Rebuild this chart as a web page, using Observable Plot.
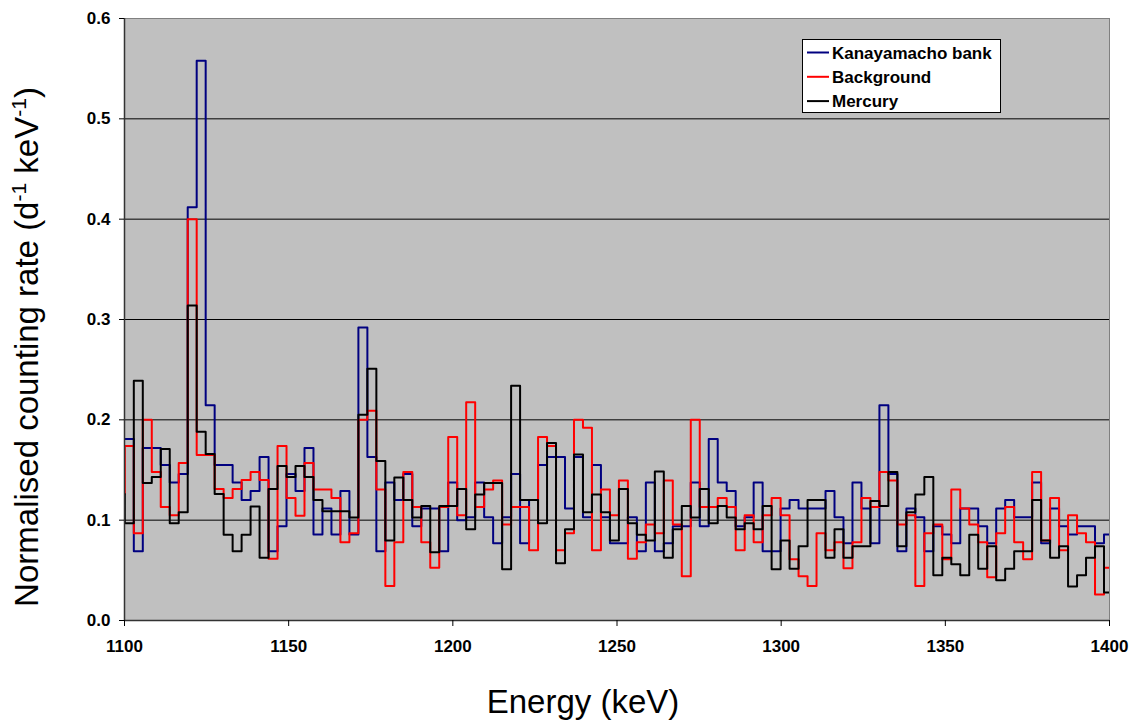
<!DOCTYPE html>
<html><head><meta charset="utf-8">
<script src="https://cdn.jsdelivr.net/npm/d3@7"></script>
<script src="https://cdn.jsdelivr.net/npm/@observablehq/plot@0.6"></script>
<style>body{margin:0;background:#fff} svg{display:block}</style>
</head><body><div id="chart"></div>
<script>
// Histogram bins (keV)
const binStart = 1100.1;
const binWidth = 2.736;

// Normalised counting rate (d^-1 keV^-1) per bin
const kanayamacho = [
0.181,0.069,0.172,0.172,0.155,0.1375,0.146,0.412,0.558,0.2146,
0.155,0.155,0.1375,0.12,0.129,0.163,0.069,0.094,0.146,0.129,
0.172,0.0857,0.1116,0.0857,0.129,0.0857,0.292,0.163,0.069,0.1375,
0.12,0.146,0.094,0.1116,0.1116,0.069,0.1375,0.1,0.103,0.1375,
0.103,0.077,0.103,0.146,0.077,0.12,0.155,0.163,0.163,0.1116,
0.163,0.103,0.155,0.103,0.077,0.077,0.103,0.069,0.1375,0.069,
0.077,0.094,0.094,0.1375,0.094,0.181,0.1375,0.129,0.094,0.103,
0.1375,0.069,0.069,0.1116,0.12,0.1116,0.1116,0.1116,0.129,0.103,
0.077,0.1375,0.1116,0.077,0.2146,0.146,0.069,0.1116,0.103,0.069,
0.094,0.0857,0.077,0.1116,0.1116,0.094,0.077,0.1116,0.12,0.103,
0.103,0.1375,0.077,0.1116,0.094,0.0857,0.094,0.094,0.077,0.0857];

const background = [
0.174,0.087,0.2,0.148,0.113,0.105,0.157,0.40,0.165,0.165,
0.131,0.122,0.131,0.14,0.148,0.14,0.0615,0.174,0.122,0.1045,
0.157,0.1305,0.1305,0.122,0.078,0.087,0.2,0.209,0.1305,0.0345,
0.078,0.148,0.113,0.078,0.0525,0.113,0.183,0.105,0.2176,0.113,
0.1305,0.1395,0.0957,0.113,0.113,0.07,0.183,0.174,0.07,0.087,
0.2,0.192,0.07,0.1305,0.105,0.1395,0.0615,0.078,0.0957,0.087,
0.1395,0.0957,0.044,0.2,0.113,0.113,0.122,0.113,0.07,0.105,
0.078,0.105,0.122,0.105,0.061,0.044,0.0345,0.087,0.07,0.078,
0.052,0.078,0.122,0.113,0.148,0.1395,0.0957,0.105,0.0345,0.087,
0.0957,0.061,0.1305,0.1116,0.0957,0.078,0.043,0.087,0.113,0.078,
0.061,0.148,0.0797,0.122,0.07,0.105,0.087,0.078,0.026,0.0525];

const mercury = [
0.097,0.239,0.137,0.143,0.171,0.097,0.108,0.314,0.188,0.166,
0.126,0.0855,0.069,0.0855,0.1135,0.0625,0.131,0.154,0.143,0.154,
0.143,0.12,0.109,0.109,0.109,0.1027,0.205,0.251,0.159,0.0797,
0.1425,0.12,0.1027,0.114,0.0681,0.114,0.114,0.131,0.091,0.1256,
0.137,0.137,0.051,0.234,0.12,0.12,0.097,0.177,0.057,0.091,
0.1655,0.108,0.1256,0.108,0.0797,0.131,0.097,0.0855,0.0797,0.1485,
0.0625,0.091,0.114,0.1027,0.131,0.097,0.114,0.1027,0.091,0.097,
0.091,0.114,0.051,0.0797,0.0515,0.074,0.12,0.12,0.0625,0.091,
0.0625,0.074,0.074,0.119,0.114,0.148,0.074,0.108,0.1256,0.143,
0.045,0.0625,0.056,0.045,0.0855,0.0515,0.074,0.04,0.0515,0.069,
0.069,0.12,0.0797,0.0625,0.074,0.034,0.045,0.0625,0.074,0.028];

// value of the bin just below 1100 keV (clipped at the axis)
const preValues = [0.181, 0.126, 0.126];

const seriesNames = ["Kanayamacho bank", "Background", "Mercury"];
const seriesColors = ["#000080", "#ff0000", "#000000"];
const xTicks = [1100, 1150, 1200, 1250, 1300, 1350, 1400];
const yTicks = [0, 0.1, 0.2, 0.3, 0.4, 0.5, 0.6];

function toSteps(name, pre, vals) {
  const rows = [{series: name, energy: binStart - binWidth, rate: pre}];
  vals.forEach((v, i) => rows.push({series: name, energy: binStart + i * binWidth, rate: v}));
  rows.push({series: name, energy: binStart + vals.length * binWidth, rate: vals[vals.length - 1]});
  return rows;
}
const allSeries = [kanayamacho, background, mercury].map((vals, i) => toSteps(seriesNames[i], preValues[i], vals));

const font = "'Liberation Sans', Arial, sans-serif";

const chart = Plot.plot({
  width: 1130,
  height: 720,
  marginLeft: 124,
  marginRight: 21,
  marginTop: 18,
  marginBottom: 100,
  style: {fontFamily: font, background: "#fff", color: "#000"},
  x: {domain: [1100, 1400], label: null},
  y: {domain: [0, 0.6], label: null},
  marks: [
    Plot.frame({fill: "#c0c0c0", stroke: null}),
    Plot.gridY(yTicks.slice(1, 6), {stroke: "#000", strokeOpacity: 1, strokeWidth: 1}),
    ...allSeries.map((rows, i) => Plot.line(rows, {
      x: "energy", y: "rate", curve: "step-after", stroke: seriesColors[i],
      strokeWidth: 2, clip: true
    })),
    Plot.frame({stroke: "#808080", strokeWidth: 1}),
    Plot.ruleX([1100], {stroke: "#333", strokeWidth: 1.5}),
    Plot.ruleY([0], {stroke: "#333", strokeWidth: 1.5}),
    Plot.axisX({ticks: xTicks, tickFormat: d => String(d), tickSize: 6, tickPadding: 13,
      fontSize: 17, fontWeight: "bold"}),
    Plot.axisY({ticks: yTicks, tickFormat: d3.format(".1f"), tickSize: 5, tickPadding: 9,
      fontSize: 17, fontWeight: "bold"})
  ]
});
document.getElementById("chart").appendChild(chart);

const svg = d3.select(chart);
// Axis titles
const yt = svg.append("text")
  .attr("transform", "translate(38,347) rotate(-90)")
  .attr("text-anchor", "middle")
  .style("font-family", font).style("font-size", "33px").attr("fill", "#000");
yt.append("tspan").text("Normalised counting rate (d");
yt.append("tspan").attr("font-size", "21px").attr("dy", "-12").text("-1");
yt.append("tspan").attr("dy", "12").text(" keV");
yt.append("tspan").attr("font-size", "21px").attr("dy", "-12").text("-1");
yt.append("tspan").attr("dy", "12").text(")");

svg.append("text")
  .attr("x", 583).attr("y", 713)
  .attr("text-anchor", "middle")
  .style("font-family", font).style("font-size", "33px").attr("fill", "#000")
  .text("Energy (keV)");

// Legend
const lg = svg.append("g").attr("text-anchor", "start");
lg.append("rect").attr("x", 802.5).attr("y", 39.5).attr("width", 198).attr("height", 73)
  .attr("fill", "#fff").attr("stroke", "#000").attr("stroke-width", 1);
seriesNames.forEach((name, i) => {
  const cy = 52.5 + i * 24.3;
  lg.append("line").attr("x1", 807).attr("x2", 829).attr("y1", cy).attr("y2", cy)
    .attr("stroke", seriesColors[i]).attr("stroke-width", 2);
  lg.append("text").attr("x", 832).attr("y", cy).attr("dy", "0.36em")
    .attr("text-anchor", "start")
    .style("font-family", font).style("font-size", "17px").style("font-weight", "bold")
    .attr("fill", "#000").text(name);
});
</script>
</body></html>
